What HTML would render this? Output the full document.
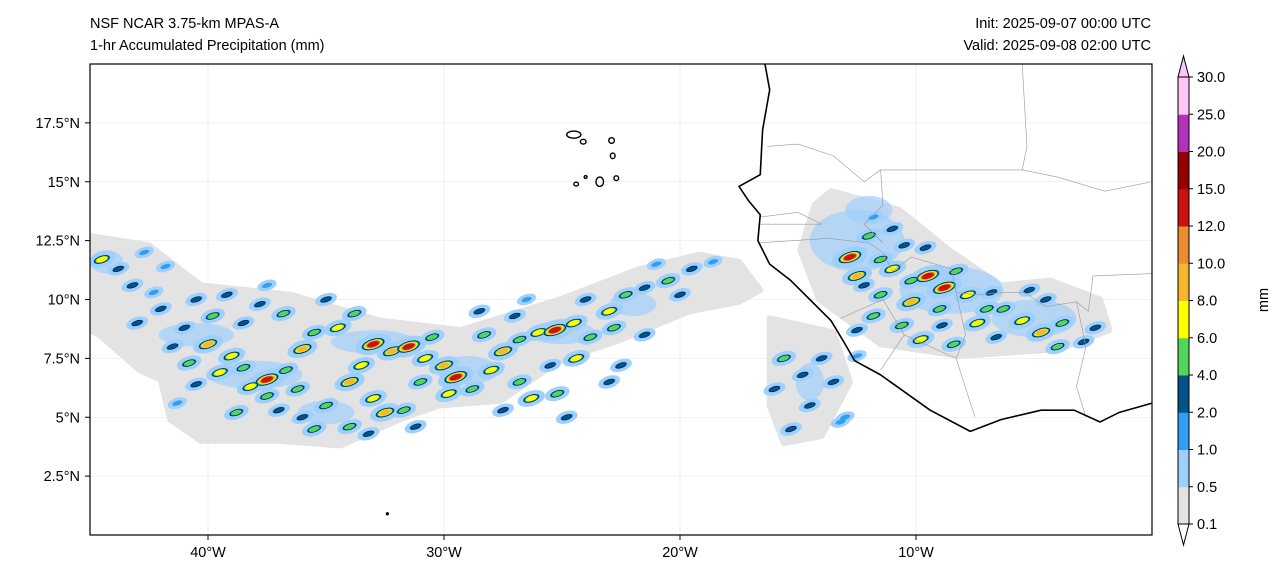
<!DOCTYPE html>
<html><head><meta charset="utf-8"><style>
html,body{margin:0;padding:0;background:#fff;}
body{width:1286px;height:580px;overflow:hidden;font-family:"Liberation Sans","DejaVu Sans",sans-serif;}
</style></head><body>
<svg id="chart" width="1286" height="580" xmlns="http://www.w3.org/2000/svg" font-family="Liberation Sans, DejaVu Sans, sans-serif">
<text x="90" y="28" font-size="14.5">NSF NCAR 3.75-km MPAS-A</text>
<text x="90" y="50" font-size="14.5">1-hr Accumulated Precipitation (mm)</text>
<text x="1151" y="28" font-size="14.5" text-anchor="end">Init: 2025-09-07 00:00 UTC</text>
<text x="1151" y="50" font-size="14.5" text-anchor="end">Valid: 2025-09-08 02:00 UTC</text>
<defs><clipPath id="mapclip"><rect x="90" y="64" width="1062" height="471"/></clipPath></defs>
<g id="map" clip-path="url(#mapclip)"></g>
<rect x="90" y="64" width="1062" height="471" fill="none" stroke="#000" stroke-width="1.2"/>
<g id="axes"></g>
<g id="cbar"></g>
</svg>
<script>
const lonMin=-45, lonMax=0, latMin=0, latMax=20;
const X0=90, X1=1152, Y0=64, Y1=535;
const xs=lon=>X0+(lon-lonMin)/(lonMax-lonMin)*(X1-X0);
const ys=lat=>Y1-(lat-latMin)/(latMax-latMin)*(Y1-Y0);
const NS='http://www.w3.org/2000/svg';
function mk(tag,attrs,parent){const e=document.createElementNS(NS,tag);for(const k in attrs)e.setAttribute(k,attrs[k]);parent.appendChild(e);return e;}

const lonTicks=[-40,-30,-20,-10];
const lonTickLabels=['40°W','30°W','20°W','10°W'];
const latTicks=[2.5,5,7.5,10,12.5,15,17.5];
const latTickLabels=['2.5°N','5°N','7.5°N','10°N','12.5°N','15°N','17.5°N'];
const levels=['0.1','0.5','1.0','2.0','4.0','6.0','8.0','10.0','12.0','15.0','20.0','25.0','30.0'];
const levelColors=['#e3e3e3','#9fcffb','#2e9ff5','#00548a','#4fd65b','#ffff00','#f8b630','#ec8c2e','#cc1111','#960000','#b232b8','#ffc4f8'];

const grayWest=[[-45,12.7],[-42.5,12.3],[-40.3,10.6],[-36.5,10.2],[-32.7,9.1],[-29.3,8.7],[-25.1,10],[-21.7,11.3],[-19.2,11.9],[-17.5,11.6],[-16.6,10.4],[-17.5,9.9],[-19.6,9.5],[-22.5,8.3],[-25.1,7.4],[-27.6,5.7],[-30.2,5.5],[-31.9,4.9],[-34.4,3.8],[-37,4.0],[-40.3,4.0],[-41.6,4.9],[-42,6.6],[-42.9,7.0],[-44.6,8.5],[-45,8.7]];
const grayEast=[[-13.6,14.6],[-10.7,13.8],[-8.6,12.1],[-6.4,10.6],[-4.3,10.8],[-2.2,10],[-1.8,8.7],[-3.9,7.9],[-8.1,7.6],[-11.5,8.1],[-14.1,10],[-14.9,12.1],[-14.3,14]];
const grayOff=[[-16.2,9.2],[-13.5,8.6],[-12.8,6.5],[-14,4.2],[-15.6,3.9],[-16.2,5.5]];
const blueAreas=[[-12.5,12.5,2.0,1.3],[-8.5,10.4,2.2,1.0],[-5,9.2,1.8,0.8],[-12,13.8,1.0,0.6],[-38,6.8,2.0,0.6],[-40.5,8.5,1.6,0.5],[-33,8.2,1.8,0.5],[-29,7.0,1.3,0.6],[-25,8.6,1.4,0.5],[-35,5.2,1.2,0.5],[-44.3,11.6,0.7,0.5],[-22,9.8,1.0,0.5],[-14.5,6.5,0.6,0.8]];
const cells=[[-44.5,11.7,5],[-43.8,11.3,3],[-42.3,10.3,2],[-40.5,10.0,3],[-39.8,9.3,4],[-38.5,9.0,3],[-41,8.8,3],[-40,8.1,6],[-39,7.6,5],[-38.5,7.1,4],[-37.5,6.6,8],[-38.2,6.3,5],[-36.7,7.0,4],[-36,7.9,6],[-35.5,8.6,4],[-34.5,8.8,5],[-33.8,9.4,4],[-33,8.1,8],[-32.2,7.8,6],[-31.5,8.0,8],[-30.8,7.5,5],[-30,7.2,6],[-29.5,6.7,8],[-29.8,6.0,5],[-28.8,6.2,4],[-28,7.0,5],[-27.5,7.8,6],[-26.8,8.3,4],[-26,8.6,5],[-25.3,8.7,8],[-24.5,9.0,5],[-23.8,8.4,4],[-23,9.5,5],[-22.3,10.2,4],[-21.5,10.5,3],[-20.5,10.8,4],[-19.5,11.3,3],[-34,6.5,6],[-33,5.8,5],[-32.5,5.2,6],[-31.7,5.3,4],[-35,5.5,4],[-36,5.0,3],[-37.5,5.9,4],[-40.5,6.4,3],[-41.3,5.6,2],[-35.5,4.5,4],[-34,4.6,4],[-26.8,6.5,4],[-25.5,7.2,3],[-24.4,7.5,5],[-22.5,7.2,3],[-21.5,8.5,3],[-27,9.3,3],[-43,9.0,3],[-41.5,8.0,3],[-15.6,7.5,4],[-14.8,6.8,3],[-13.5,6.5,3],[-14.5,5.5,3],[-15.3,4.5,3],[-13,5.0,2],[-12.5,7.6,2],[-12.8,11.8,8],[-12.5,11.0,6],[-11.5,11.7,4],[-10.5,12.3,3],[-12,12.7,4],[-9.5,11.0,8],[-8.8,10.5,8],[-7.8,10.2,5],[-9,9.6,4],[-10.2,9.9,6],[-11.5,10.2,4],[-10.6,8.9,4],[-9.8,8.3,5],[-8.4,8.1,4],[-7.4,9.0,5],[-6.3,9.6,4],[-5.5,9.1,5],[-4.7,8.6,6],[-3.8,9.0,4],[-2.9,8.2,3],[-6.8,10.3,3],[-4.5,10.0,3],[-11.8,13.5,2],[-12.5,8.7,3],
[-43.2,10.6,3],[-42,9.6,3],[-39.2,10.2,3],[-37.8,9.8,3],[-36.8,9.4,4],[-39.5,6.9,5],[-40.8,7.3,4],[-36.2,6.2,4],[-37,5.3,3],[-38.8,5.2,4],[-33.5,7.2,5],[-31,6.5,4],[-30.5,8.4,4],[-28.3,8.5,4],[-31.2,4.6,3],[-33.2,4.3,3],[-27.5,5.3,3],[-26.3,5.8,5],[-25.2,6.0,4],[-24.8,5.0,3],[-23,6.5,3],[-22.8,8.8,4],[-24,10.0,3],[-20,10.2,3],[-21,11.5,2],[-18.6,11.6,2],[-28.5,9.5,3],[-26.5,10.0,2],[-35,10.0,3],[-37.5,10.6,2],[-41.8,11.4,2],[-42.7,12.0,2],[-16,6.2,3],[-14,7.5,3],[-13.2,4.8,2],[-11,11.3,5],[-10.2,10.8,4],[-8.3,11.2,4],[-7,9.6,4],[-6.6,8.4,3],[-8.9,8.9,3],[-11.8,9.3,4],[-12.2,10.6,3],[-9.6,12.2,3],[-11.0,13.0,3],[-4.0,8.0,4],[-2.4,8.8,3],[-5.2,10.4,3]];
const coast=[[-16.4,20],[-16.2,18.9],[-16.5,17.2],[-16.6,15.3],[-17.5,14.8],[-17.1,14.2],[-16.6,13.6],[-16.7,12.5],[-16.2,11.5],[-15.3,10.8],[-14.5,10],[-13.6,9.1],[-13,8.1],[-12.6,7.4],[-11.5,6.8],[-9.4,5.3],[-7.7,4.4],[-6.4,4.9],[-4.7,5.3],[-3.3,5.3],[-2.2,4.8],[-1.4,5.2],[0,5.6]];
const borders=[
 [[-16.3,16.5],[-15,16.6],[-13.5,16.1],[-12.2,15.0],[-11.5,15.5],[-5.5,15.5],[-5.3,16.5],[-5.5,20]],
 [[-16.7,12.4],[-13.7,12.6],[-12,12.4],[-11.4,12.0],[-11,11.2],[-10.2,11.8],[-8.5,11.3],[-8.3,10.3],[-7.4,10.2],[-6.2,10.3],[-5.4,10.3],[-4.5,9.7],[-3.2,9.9],[-2.7,9.5],[-2.5,11.0],[0,11.1]],
 [[-11.5,15.5],[-11.4,14.0],[-12.2,13.2],[-11.4,12.4]],
 [[-5.5,15.5],[-4,15.2],[-2,14.6],[0,15.0]],
 [[-3.2,9.9],[-2.8,8.0],[-3.2,6.3],[-2.8,5.0]],
 [[-8.3,10.3],[-7.9,8.5],[-8.3,7.5],[-7.5,5.0]],
 [[-13.2,9.2],[-11.4,10],[-10.5,8.5],[-11.5,7.0]],
 [[-16.6,13.5],[-15,13.7],[-14,13.2],[-16.6,13.2]],
 [[-10.5,8.5],[-8.3,7.5]]
];
const islands=[[-24.5,17.0,0.3,0.15],[-24.1,16.7,0.12,0.1],[-22.9,16.75,0.12,0.12],[-22.85,16.1,0.1,0.12],[-23.4,15.0,0.16,0.2],[-24.4,14.9,0.1,0.08],[-22.7,15.15,0.1,0.1],[-24.0,15.2,0.06,0.06],[-32.4,0.9,0.04,0.04]];

const map=document.getElementById('map');
const poly=(pts,attrs)=>mk('polygon',Object.assign({points:pts.map(p=>xs(p[0])+','+ys(p[1])).join(' ')},attrs),map);
lonTicks.forEach(v=>{const l=mk('line',{x1:xs(v),x2:xs(v),y1:Y0,y2:Y1,stroke:'#e6e6e6','stroke-width':0.6},map);

});
latTicks.forEach(v=>{const l=mk('line',{x1:X0,x2:X1,y1:ys(v),y2:ys(v),stroke:'#e6e6e6','stroke-width':0.6},map);

});
[grayWest,grayEast,grayOff].forEach(g=>{const p=poly(g,{fill:levelColors[0],stroke:levelColors[0],'stroke-width':6,'stroke-linejoin':'round'});

});
const pxd=(X1-X0)/(lonMax-lonMin);
blueAreas.forEach(b=>{const e=mk('ellipse',{cx:xs(b[0]),cy:ys(b[1]),rx:b[2]*pxd,ry:b[3]*pxd,fill:levelColors[1],opacity:0.7},map);

});
// halos
cells.forEach(c=>{
 const r=(0.2+0.04*c[2])*pxd;
 const h=mk('ellipse',{cx:xs(c[0]),cy:ys(c[1]),rx:r*1.5,ry:r*0.8,fill:levelColors[1],transform:`rotate(-18 ${xs(c[0])} ${ys(c[1])})`},map);
 
 
});
cells.forEach(c=>{
 const g=mk('g',{transform:`rotate(-18 ${xs(c[0])} ${ys(c[1])})`},map);
 
 
 const lvl=c[2];
 for(let k=2;k<=lvl;k++){
  const r=(0.12+0.035*lvl-0.03*(k-1))*pxd;
  mk('ellipse',{cx:xs(c[0]),cy:ys(c[1]),rx:Math.max(r*1.4,1.5),ry:Math.max(r*0.6,1.2),fill:levelColors[k],stroke:k===3?'#002':'none','stroke-width':0.5},g);
 }
});
borders.forEach(b=>{const l=mk('polyline',{points:b.map(p=>xs(p[0])+','+ys(p[1])).join(' '),fill:'none',stroke:'#999','stroke-width':0.6},map);

});
const cl=mk('polyline',{points:coast.map(p=>xs(p[0])+','+ys(p[1])).join(' '),fill:'none',stroke:'#000','stroke-width':1.6,'stroke-linejoin':'round'},map);


islands.forEach(i=>{const e=mk('ellipse',{cx:xs(i[0]),cy:ys(i[1]),rx:i[2]*pxd,ry:i[3]*pxd,fill:'none',stroke:'#000','stroke-width':1.4},map);

});

const ax=document.getElementById('axes');
lonTicks.forEach((v,i)=>{mk('line',{x1:xs(v),x2:xs(v),y1:Y1,y2:Y1+5,stroke:'#000'},ax);
const t=mk('text',{x:xs(v),y:Y1+22,'font-size':14.5,'text-anchor':'middle'},ax);t.textContent=lonTickLabels[i];

});
latTicks.forEach((v,i)=>{mk('line',{x1:X0-5,x2:X0,y1:ys(v),y2:ys(v),stroke:'#000'},ax);
const t=mk('text',{x:X0-10,y:ys(v)+5,'font-size':14.5,'text-anchor':'end'},ax);t.textContent=latTickLabels[i];

});

const cb=document.getElementById('cbar');
const cbx=1178,cbw=11,cbTop=77,cbBot=524,seg=(cbBot-cbTop)/(levels.length-1);
levelColors.forEach((c,i)=>{const r=mk('rect',{x:cbx,y:cbBot-(i+1)*seg,width:cbw,height:seg+0.5,fill:c},cb);

});
mk('polygon',{points:`${cbx},${cbTop} ${cbx+cbw/2},${cbTop-21} ${cbx+cbw},${cbTop}`,fill:levelColors[11],stroke:'#000'},cb);
mk('polygon',{points:`${cbx},${cbBot} ${cbx+cbw/2},${cbBot+21} ${cbx+cbw},${cbBot}`,fill:'#fff',stroke:'#000'},cb);
mk('rect',{x:cbx,y:cbTop,width:cbw,height:cbBot-cbTop,fill:'none',stroke:'#000'},cb);
levels.forEach((l,i)=>{const y=cbBot-i*seg;mk('line',{x1:cbx+cbw,x2:cbx+cbw+4,y1:y,y2:y,stroke:'#000'},cb);
const t=mk('text',{x:cbx+cbw+8,y:y+5,'font-size':14.5},cb);t.textContent=l;

});
const u=mk('text',{x:1268,y:300,'font-size':14.5,'text-anchor':'middle',transform:'rotate(-90 1268 300)'},cb);u.textContent='mm';


</script>
</body></html>
